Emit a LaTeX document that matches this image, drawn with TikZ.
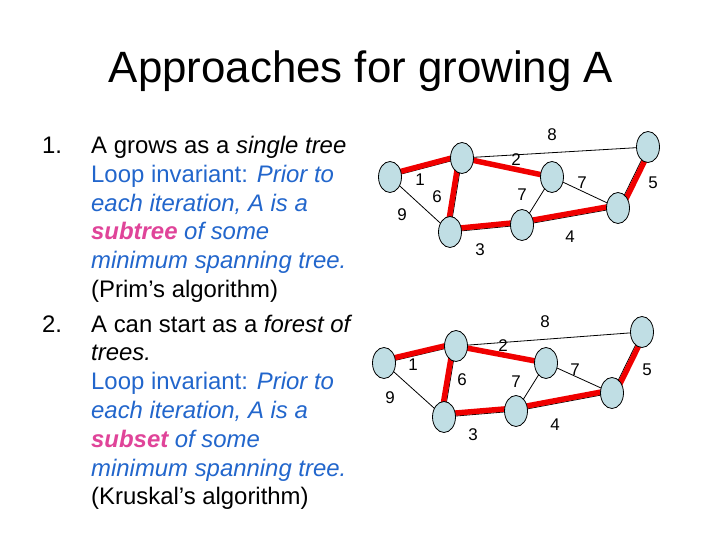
\documentclass[tikz,border=0pt]{standalone}
\usepackage{fontspec}
\setmainfont{Liberation Sans}
\usetikzlibrary{shapes.geometric}
\definecolor{txtblue}{RGB}{34,102,204}
\definecolor{txtpink}{RGB}{224,68,153}
\definecolor{nodefill}{RGB}{192,222,228}
\definecolor{redge}{RGB}{240,0,0}
\tikzset{
  vtx/.style={ellipse, draw=black, line width=0.8bp, fill=nodefill, minimum width=23bp, minimum height=31bp, inner sep=0pt},
  thin edge/.style={draw=black, line width=0.8bp},
  red edge/.style={draw=redge, line width=5.5bp},
  wlab/.style={font=\fontsize{17}{19}\selectfont, inner sep=0pt},
  txt/.style={anchor=base west, inner sep=0pt, font=\fontsize{24}{28.8}\selectfont},
}
\begin{document}
\begin{tikzpicture}[x=1bp,y=-1bp]
\useasboundingbox (0,0) rectangle (720,540);
\fill[white] (0,0) rectangle (720,540);
% title
\node[anchor=base, inner sep=0pt, font=\fontsize{44}{50}\selectfont] (title) at (361,83) {Approaches for growing A};
% text
\node[txt] (n1) at (42,153.5) {1.};
\node[txt] (n2) at (42,332) {2.};
\node[txt] (l0) at (91,153.5) {A grows as a \textit{single tree}};
\node[txt, text=txtblue] (l1) at (91,182.3) {Loop invariant: \textit{Prior to}};
\node[txt, text=txtblue] (l2) at (91,211.1) {\textit{each iteration, A is a}};
\node[txt, text=txtblue] (l3) at (91,239.9) {\textbf{\textit{\color{txtpink}subtree}} \textit{of some}};
\node[txt, text=txtblue] (l4) at (91,268.7) {\textit{minimum spanning tree.}};
\node[txt] (l5) at (91,297.5) {(Prim’s algorithm)};
\node[txt] (l6) at (91,332) {A can start as a \textit{forest of}};
\node[txt] (l7) at (91,360.8) {\textit{trees.}};
\node[txt, text=txtblue] (l8) at (91,389.6) {Loop invariant: \textit{Prior to}};
\node[txt, text=txtblue] (l9) at (91,418.4) {\textit{each iteration, A is a}};
\node[txt, text=txtblue] (l10) at (91,447.2) {\textbf{\textit{\color{txtpink}subset}} \textit{of some}};
\node[txt, text=txtblue] (l11) at (91,476) {\textit{minimum spanning tree.}};
\node[txt] (l12) at (91,504.8) {(Kruskal’s algorithm)};

% ---------- top graph ----------
\coordinate (ta) at (390,177);
\coordinate (tb) at (462,158);
\coordinate (tc) at (552,177);
\coordinate (td) at (648,147);
\coordinate (te) at (450,232);
\coordinate (tf) at (522,225);
\coordinate (tg) at (618,208);
\draw[thin edge] (ta) -- (tb);
\draw[thin edge] (ta) -- (te);
\draw[thin edge] (tb) -- (te);
\draw[thin edge] (tb) -- (tc);
\draw[thin edge] (tb) -- (td);
\draw[thin edge] (tc) -- (tf);
\draw[thin edge] (tc) -- (tg);
\draw[thin edge] (te) -- (tf);
\draw[thin edge] (tf) -- (tg);
\draw[thin edge] (tg) -- (td);
\draw[red edge, transform canvas={shift={(1,-3)}}] (ta) -- (tb);
\draw[red edge, transform canvas={shift={(-3,0)}}] (tb) -- (te);
\draw[red edge] (tb) -- (tc);
\draw[red edge, transform canvas={shift={(0,-3)}}] (te) -- (tf);
\draw[red edge, transform canvas={shift={(0,-3)}}] (tf) -- (tg);
\draw[red edge, transform canvas={shift={(3,1)}}] (tg) -- (td);
\foreach \v in {ta,tb,tc,td,te,tf,tg} \node[vtx] (\v n) at (\v) {};
\node[wlab] (t8) at (552,135) {8};
\node[wlab] (t2) at (516,160) {2};
\node[wlab] (t1) at (420,180) {1};
\node[wlab] (t6) at (437,197) {6};
\node[wlab] (t7a) at (522,195) {7};
\node[wlab] (t7b) at (582,183) {7};
\node[wlab] (t5) at (653,183) {5};
\node[wlab] (t9) at (402,215) {9};
\node[wlab] (t3) at (480,250) {3};
\node[wlab] (t4) at (570,237) {4};

% ---------- bottom graph ----------
\coordinate (ba) at (384,363);
\coordinate (bb) at (456,346);
\coordinate (bc) at (546,363);
\coordinate (bd) at (642,332);
\coordinate (be) at (444,417);
\coordinate (bf) at (516,411);
\coordinate (bg) at (612,393);
\draw[thin edge] (ba) -- (bb);
\draw[thin edge] (ba) -- (be);
\draw[thin edge] (bb) -- (be);
\draw[thin edge] (bb) -- (bc);
\draw[thin edge] (bb) -- (bd);
\draw[thin edge] (bc) -- (bf);
\draw[thin edge] (bc) -- (bg);
\draw[thin edge] (be) -- (bf);
\draw[thin edge] (bf) -- (bg);
\draw[thin edge] (bg) -- (bd);
\draw[red edge, transform canvas={shift={(1,-3)}}] (ba) -- (bb);
\draw[red edge, transform canvas={shift={(-3,0)}}] (bb) -- (be);
\draw[red edge] (bb) -- (bc);
\draw[red edge, transform canvas={shift={(0,-3)}}] (be) -- (bf);
\draw[red edge, transform canvas={shift={(0,-3)}}] (bf) -- (bg);
\draw[red edge, transform canvas={shift={(3,1)}}] (bg) -- (bd);
\foreach \v in {ba,bb,bc,bd,be,bf,bg} \node[vtx] (\v n) at (\v) {};
\node[wlab] (b8) at (545,322) {8};
\node[wlab] (b2) at (503,346) {2};
\node[wlab] (b1) at (413,365) {1};
\node[wlab] (b6) at (462,380) {6};
\node[wlab] (b7a) at (516,382) {7};
\node[wlab] (b7b) at (575,370) {7};
\node[wlab] (b5) at (647,370) {5};
\node[wlab] (b9) at (390,398) {9};
\node[wlab] (b3) at (473,435) {3};
\node[wlab] (b4) at (555,425) {4};
\end{tikzpicture}
\end{document}
